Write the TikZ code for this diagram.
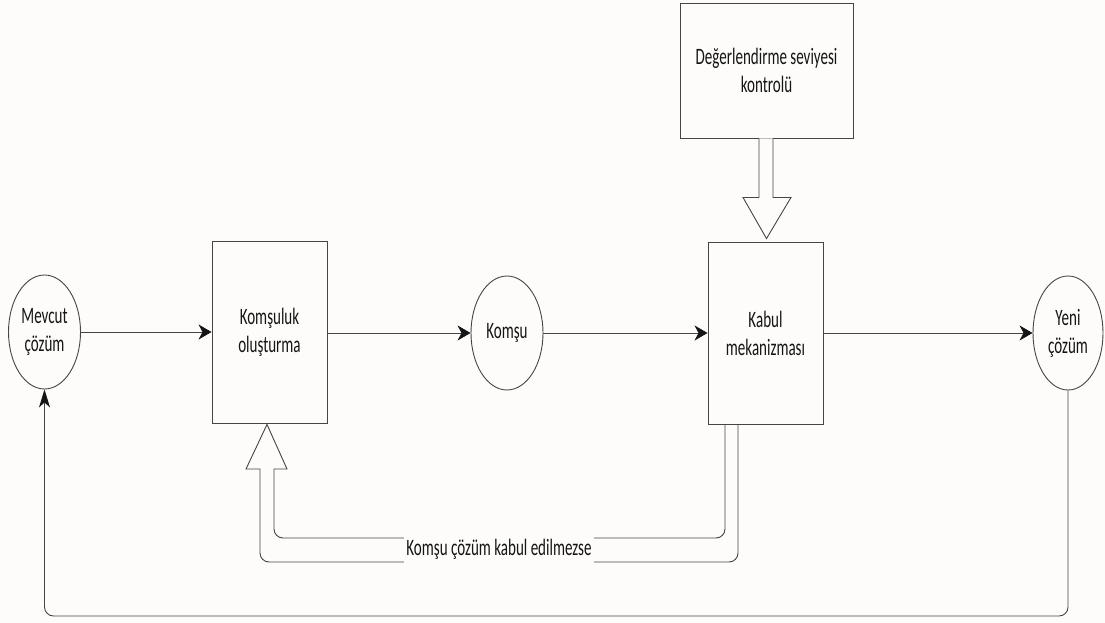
\documentclass[tikz,border=0pt]{standalone}
\usepackage{fontspec}
\setmainfont[FakeStretch=0.64]{Carlito}
\usetikzlibrary{shapes.geometric,arrows.meta,calc}
\definecolor{ink}{HTML}{454545}
\definecolor{txt}{HTML}{151515}
\definecolor{paper}{HTML}{FDFCFA}
\tikzset{
  x=1pt, y=-1pt,
  every node/.style={text=txt, font=\fontsize{23.5}{28}\selectfont, align=center},
  blob/.style={ellipse, draw=ink, line width=0.9pt, inner sep=0pt, minimum width=72pt, minimum height=114pt},
  unit/.style={rectangle, draw=ink, line width=0.9pt, inner sep=0pt, minimum width=115pt, minimum height=182pt},
  flow/.style={draw=ink, line width=0.9pt, -{Stealth[length=13pt, width=15pt, inset=4pt, color=txt]}},
  back/.style={draw=ink, line width=0.9pt, rounded corners=9pt, -{Stealth[length=18pt, width=11pt, inset=5pt, color=txt]}},
  hollow/.style={draw=ink, line width=0.9pt, fill=paper},
}
\begin{document}
\begin{tikzpicture}
  \fill[paper] (0,0) rectangle (1105,623);
  \useasboundingbox (0,0) rectangle (1105,623);

  % nodes of the search step
  \node[blob] (mev) at (44.5,332) {Mevcut\\çözüm};
  \node[unit] (kom) at (269.5,332) {Komşuluk\\oluşturma};
  \node[blob] (nb) at (507,333) {Komşu};
  \node[unit] (kab) at (765.5,333) {Kabul\\mekanizması};
  \node[rectangle, draw=ink, line width=0.9pt, minimum width=173pt, minimum height=135pt, inner sep=0pt]
       (deg) at (766.5,70.5) {Değerlendirme seviyesi\\kontrolü};
  \node[blob, minimum width=70pt] (yeni) at (1068,333) {Yeni\\çözüm};

  % main flow
  \draw[flow] (mev.east) -- (kom.west);
  \draw[flow] (kom.east |- nb.west) -- (nb.west);
  \draw[flow] (nb.east) -- (kab.west |- nb.east);
  \draw[flow] (kab.east |- yeni.west) -- (yeni.west);

  % loop back to the current solution
  \coordinate (lowR) at (1068,616);
  \draw[back] (yeni.south) -- (lowR) -- (mev.south |- lowR) -- (mev.south);

  % hollow arrow from the evaluation check into the acceptance unit
  \draw[hollow] ($(deg.south)+(-7.5,0)$) -- ++(0,59) -- ++(-16,0)
       -- ($(kab.north)+(1,-3)$) -- ($(deg.south)+(24.5,59)$) -- ++(-18,0)
       -- ($(deg.south)+(6.5,0)$);

  % hollow return arrow when the neighbour is rejected
  \coordinate (ri) at ($(kab.south)+(-40.5,0)$);
  \coordinate (ro) at ($(kab.south)+(-27.5,0)$);
  \coordinate (tip) at ($(kom.south)+(-2.5,1)$);
  \draw[hollow, fill=none, rounded corners=9pt]
       (ri) -- (ri |- 0,538) -- (274,538) [sharp corners] -- (274,469) -- (287,469)
       -- (tip) -- (246,469) -- (260,469) [rounded corners=9pt] -- (260,562)
       -- (ro |- 0,562) -- (ro);
  \node[fill=paper, inner xsep=2pt, inner ysep=4pt] (msg) at (499,549) {Komşu çözüm kabul edilmezse};
\end{tikzpicture}
\end{document}
